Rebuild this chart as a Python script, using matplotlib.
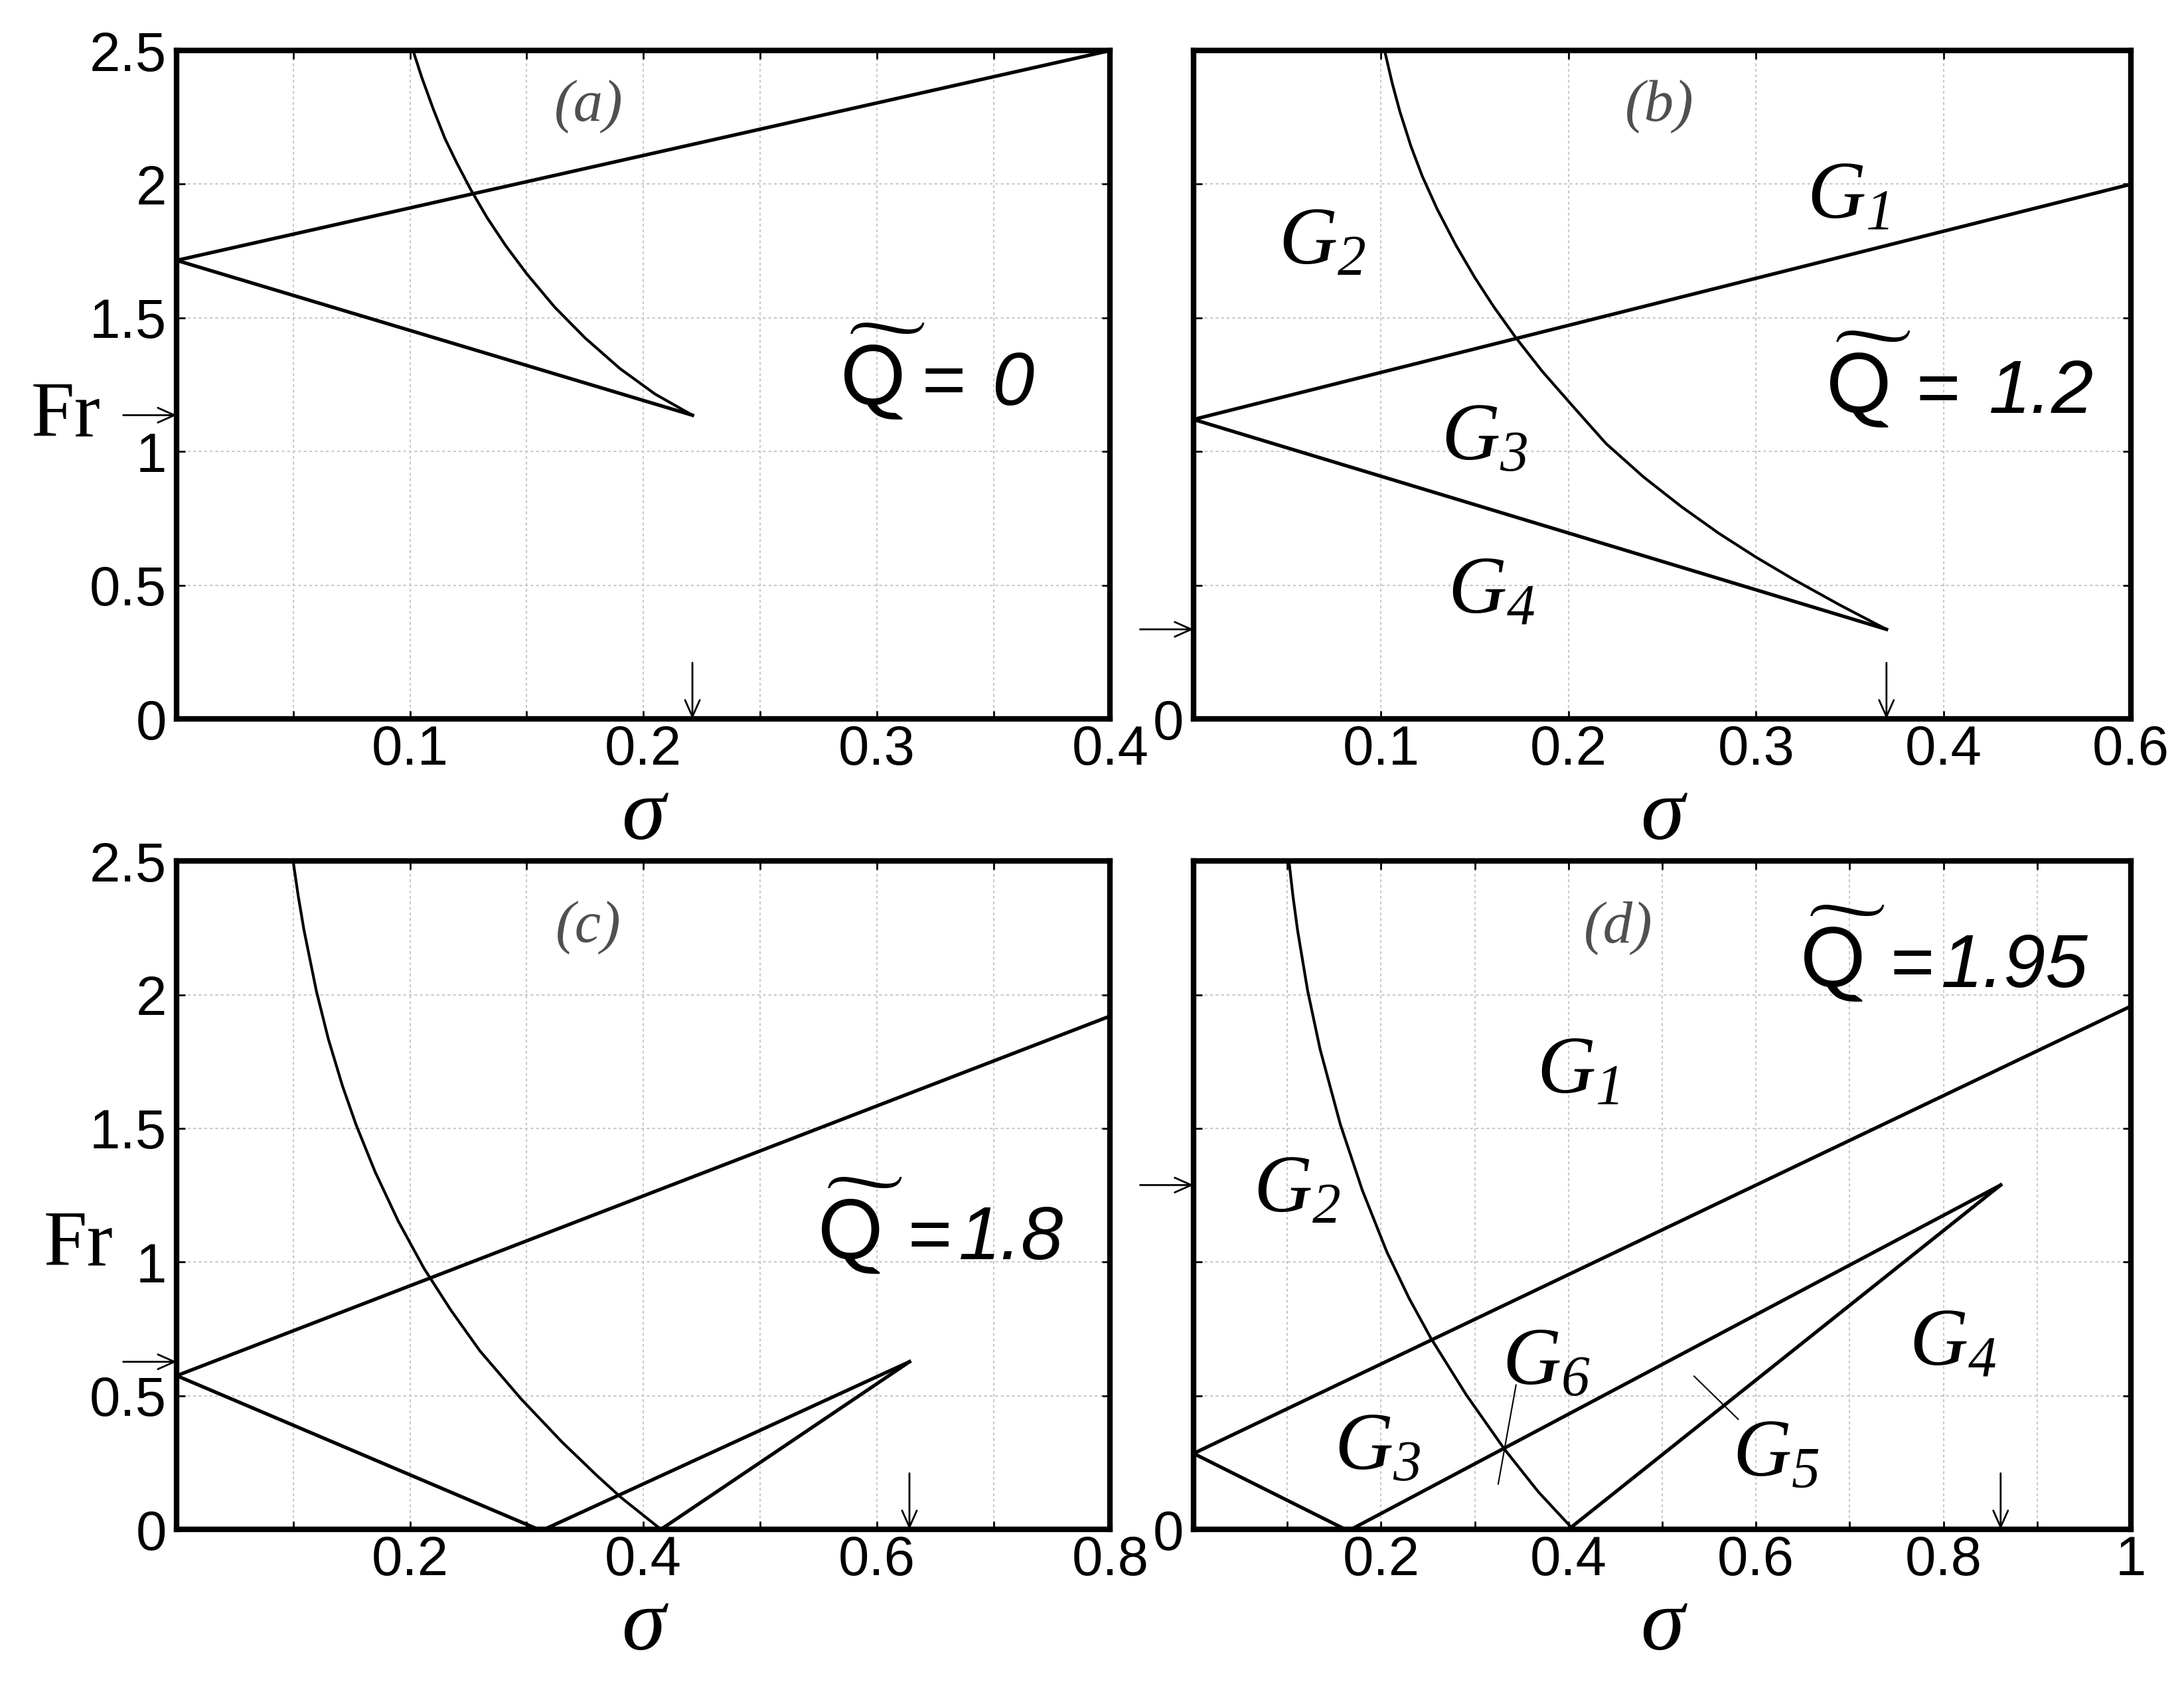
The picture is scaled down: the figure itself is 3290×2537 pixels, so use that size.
import matplotlib.pyplot as plt

fr_ticks = [0, 0.5, 1, 1.5, 2, 2.5]
fr_labels_full = ['0', '0.5', '1', '1.5', '2', '2.5']
fr_labels_zero = ['0', '', '', '', '', '']

# (a) Q = 0
a_xticks = [0, 0.05, 0.1, 0.15, 0.2, 0.25, 0.3, 0.35, 0.4]
a_xlabels = ['', '', '0.1', '', '0.2', '', '0.3', '', '0.4']
a_upper_sigma = [0.0, 0.4]
a_upper_fr = [1.715, 2.5]
a_lower_sigma = [0.0, 0.221]
a_lower_fr = [1.715, 1.136]
a_curve_sigma = [0.1013, 0.105, 0.110, 0.115, 0.120, 0.126, 0.133, 0.141, 0.150,
                 0.162, 0.175, 0.190, 0.205, 0.221]
a_curve_fr = [2.50, 2.40, 2.28, 2.17, 2.08, 1.98, 1.875, 1.77, 1.665,
              1.54, 1.425, 1.31, 1.215, 1.136]
a_cusp = [0.221, 1.136]

# (b) Q = 1.2 -- the last tick is printed as 0.6 in the original although it sits at 0.5
b_xticks = [0, 0.1, 0.2, 0.3, 0.4, 0.5]
b_xlabels = ['', '0.1', '0.2', '0.3', '0.4', '0.6']
b_upper_sigma = [0.0, 0.5]
b_upper_fr = [1.12, 2.0]
b_lower_sigma = [0.0, 0.3696]
b_lower_fr = [1.12, 0.335]
b_curve_sigma = [0.1019, 0.106, 0.110, 0.116, 0.122, 0.130, 0.140, 0.150, 0.160, 0.172,
                 0.186, 0.202, 0.220, 0.240, 0.260, 0.280, 0.300, 0.320, 0.345, 0.3696]
b_curve_fr = [2.50, 2.377, 2.273, 2.141, 2.03, 1.906, 1.771, 1.651, 1.543, 1.425,
              1.30, 1.172, 1.03, 0.905, 0.795, 0.695, 0.605, 0.522, 0.425, 0.335]
b_cusp = [0.3696, 0.335]
b_regions = ['$G_{1}$', '$G_{2}$', '$G_{3}$', '$G_{4}$']
b_region_sigma = [0.349, 0.0684, 0.155, 0.159]
b_region_fr = [1.95, 1.78, 1.048, 0.474]

# (c) Q = 1.8
c_xticks = [0, 0.1, 0.2, 0.3, 0.4, 0.5, 0.6, 0.7, 0.8]
c_xlabels = ['', '', '0.2', '', '0.4', '', '0.6', '', '0.8']
c_upper_sigma = [0.0, 0.8]
c_upper_fr = [0.575, 1.92]
c_lower_sigma = [0.0, 0.31, 0.315, 0.628]
c_lower_fr = [0.575, 0.0, 0.0, 0.627]
c_right_sigma = [0.415, 0.628]
c_right_fr = [0.0, 0.627]
c_curve_sigma = [0.0998, 0.104, 0.109, 0.1197, 0.130, 0.142, 0.1537, 0.170, 0.190,
                 0.212, 0.235, 0.260, 0.2954, 0.330, 0.360, 0.3812, 0.4151]
c_curve_fr = [2.50, 2.374, 2.244, 2.014, 1.834, 1.66, 1.514, 1.338, 1.152,
              0.976, 0.82, 0.667, 0.487, 0.328, 0.202, 0.118, 0.0]
c_cusp = [0.628, 0.627]

# (d) Q = 1.95
d_xticks = [0, 0.1, 0.2, 0.3, 0.4, 0.5, 0.6, 0.7, 0.8, 0.9, 1.0]
d_xlabels = ['', '', '0.2', '', '0.4', '', '0.6', '', '0.8', '', '1']
d_upper_sigma = [0.0, 1.0]
d_upper_fr = [0.284, 1.957]
d_lower_sigma = [0.0, 0.162, 0.168, 0.861]
d_lower_fr = [0.284, 0.0, 0.0, 1.288]
d_right_sigma = [0.40, 0.861]
d_right_fr = [0.0, 1.288]
d_curve_sigma = [0.1018, 0.106, 0.111, 0.1217, 0.135, 0.1565, 0.180, 0.2062, 0.230,
                 0.2534, 0.291, 0.3319, 0.3677, 0.405]
d_curve_fr = [2.50, 2.37, 2.24, 2.015, 1.796, 1.516, 1.269, 1.038, 0.864,
              0.714, 0.503, 0.299, 0.141, 0.0]
d_cusp = [0.861, 1.288]
d_g6_sigma = [0.344, 0.325]
d_g6_fr = [0.54, 0.17]
d_g5_sigma = [0.534, 0.581]
d_g5_fr = [0.573, 0.412]
d_regions = ['$G_{1}$', '$G_{2}$', '$G_{3}$', '$G_{4}$', '$G_{5}$', '$G_{6}$']
d_region_sigma = [0.41, 0.11, 0.196, 0.81, 0.621, 0.376]
d_region_fr = [1.71, 1.266, 0.303, 0.693, 0.278, 0.62]

q_values = ['0', '1.2', '1.8', '1.95']

plt.rcParams['font.family'] = 'Liberation Sans'
plt.rcParams['mathtext.fontset'] = 'custom'
plt.rcParams['mathtext.it'] = 'Liberation Serif:italic'
plt.rcParams['mathtext.rm'] = 'Liberation Serif:italic'

LINE_W = 3.8
CURVE_W = 3.0


def setup_axes(ax, xmax, xticks, xlabels, ylabels):
    ax.set_xlim(0, xmax)
    ax.set_ylim(0, 2.5)
    ax.set_xticks(xticks)
    ax.set_xticklabels(xlabels)
    ax.set_yticks(fr_ticks)
    ax.set_yticklabels(ylabels)
    ax.set_axisbelow(True)
    ax.grid(True, color='#c8c8c8', linestyle=(0, (2, 2)), linewidth=1.5)
    ax.tick_params(direction='in', length=9, width=2, top=True, right=True, labelsize=60)
    ax.tick_params(axis='x', pad=6)
    ax.tick_params(axis='y', pad=11)
    for s in ax.spines.values():
        s.set_linewidth(6)
    ax.text(0.5, -0.18, 'σ', transform=ax.transAxes, ha='center', va='baseline',
            family='Liberation Serif', style='italic', fontsize=96)


def mark_cusp(ax, cusp):
    # arrow from the left onto the Fr of the cusp, and one from above onto its sigma
    style = dict(arrowstyle='->,head_length=0.45,head_width=0.2', lw=2,
                 color='black', mutation_scale=40, shrinkA=0, shrinkB=0)
    ax.annotate('', xy=(0, cusp[1]), xytext=(-58, 0), textcoords='offset points',
                arrowprops=style, annotation_clip=False)
    ax.annotate('', xy=(cusp[0], 0), xytext=(cusp[0], 0.21),
                arrowprops=style, annotation_clip=False)


def draw_q(ax, x, y, value, eq_dx, val_dx):
    # Q with a wide tilde over it, as one text
    ax.text(x, y, r'$\widetilde{\mathrm{Q}\,}$', math_fontfamily='stixsans',
            fontsize=95, ha='left', va='baseline')
    ax.annotate('=', xy=(x, y), xytext=(eq_dx, 0), textcoords='offset points',
                fontsize=82, va='baseline')
    ax.annotate(value, xy=(x, y), xytext=(val_dx, 0), textcoords='offset points',
                fontsize=82, style='italic', va='baseline')


def panel_letter(ax, x, y, letter):
    ax.text(x, y, letter, ha='center', va='center', family='Liberation Serif',
            style='italic', fontsize=64, color='#505050')


def region_labels(ax, names, xs, ys):
    for name, x, y in zip(names, xs, ys):
        ax.text(x, y, name, ha='center', va='center', fontsize=88)


fig = plt.figure(figsize=(32.9, 25.37), dpi=100)
ax_a = fig.add_axes([0.0809, 0.5731, 0.4274, 0.3969])
ax_b = fig.add_axes([0.5465, 0.5731, 0.4292, 0.3969])
ax_c = fig.add_axes([0.0809, 0.0918, 0.4274, 0.3969])
ax_d = fig.add_axes([0.5465, 0.0918, 0.4292, 0.3969])

# (a)
setup_axes(ax_a, 0.4, a_xticks, a_xlabels, fr_labels_full)
ax_a.plot(a_upper_sigma, a_upper_fr, color='black', lw=LINE_W)
ax_a.plot(a_lower_sigma, a_lower_fr, color='black', lw=LINE_W)
ax_a.plot(a_curve_sigma, a_curve_fr, color='black', lw=CURVE_W)
mark_cusp(ax_a, a_cusp)
panel_letter(ax_a, 0.1765, 2.29, '(a)')
draw_q(ax_a, 0.2848, 1.174, q_values[0], 87, 163)

# (b)
setup_axes(ax_b, 0.5, b_xticks, b_xlabels, fr_labels_zero)
ax_b.plot(b_upper_sigma, b_upper_fr, color='black', lw=LINE_W)
ax_b.plot(b_lower_sigma, b_lower_fr, color='black', lw=LINE_W)
ax_b.plot(b_curve_sigma, b_curve_fr, color='black', lw=CURVE_W)
mark_cusp(ax_b, b_cusp)
panel_letter(ax_b, 0.2484, 2.29, '(b)')
draw_q(ax_b, 0.3378, 1.1445, q_values[1], 97, 175)
region_labels(ax_b, b_regions, b_region_sigma, b_region_fr)

# (c)
setup_axes(ax_c, 0.8, c_xticks, c_xlabels, fr_labels_full)
ax_c.plot(c_upper_sigma, c_upper_fr, color='black', lw=LINE_W)
ax_c.plot(c_lower_sigma, c_lower_fr, color='black', lw=LINE_W)
ax_c.plot(c_right_sigma, c_right_fr, color='black', lw=LINE_W)
ax_c.plot(c_curve_sigma, c_curve_fr, color='black', lw=CURVE_W)
mark_cusp(ax_c, c_cusp)
panel_letter(ax_c, 0.353, 2.25, '(c)')
draw_q(ax_c, 0.55, 1.01, q_values[2], 97, 151)

# (d)
setup_axes(ax_d, 1.0, d_xticks, d_xlabels, fr_labels_zero)
ax_d.plot(d_upper_sigma, d_upper_fr, color='black', lw=LINE_W)
ax_d.plot(d_lower_sigma, d_lower_fr, color='black', lw=LINE_W)
ax_d.plot(d_right_sigma, d_right_fr, color='black', lw=LINE_W)
ax_d.plot(d_curve_sigma, d_curve_fr, color='black', lw=CURVE_W)
ax_d.plot(d_g6_sigma, d_g6_fr, color='black', lw=1.5)
ax_d.plot(d_g5_sigma, d_g5_fr, color='black', lw=1.5)
mark_cusp(ax_d, d_cusp)
panel_letter(ax_d, 0.453, 2.25, '(d)')
draw_q(ax_d, 0.648, 2.028, q_values[3], 97, 151)
region_labels(ax_d, d_regions, d_region_sigma, d_region_fr)

# "Fr" axis names on the left panels
fig.text(0.0143, 0.7412, 'Fr', family='Liberation Serif', fontsize=85, va='baseline')
fig.text(0.0198, 0.249, 'Fr', family='Liberation Serif', fontsize=85, va='baseline')

fig.savefig('out.png', dpi=100)
